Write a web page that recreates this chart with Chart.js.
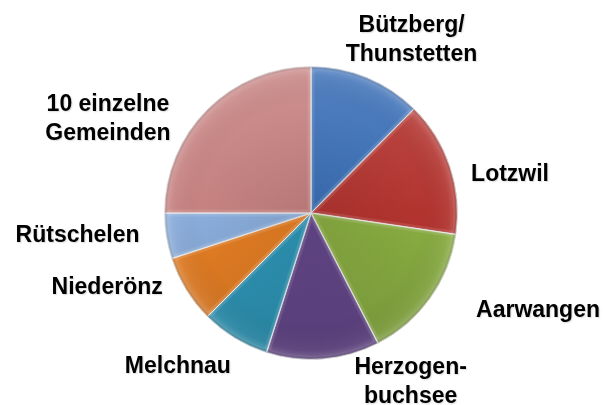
<!DOCTYPE html>
<html>
<head>
<meta charset="utf-8">
<script src="https://cdn.jsdelivr.net/npm/chart.js@4/dist/chart.umd.min.js"></script>
<style>
  html, body { margin: 0; padding: 0; background: #ffffff; }
  #wrap { width: 605px; height: 405px; position: relative; }
</style>
</head>
<body>
<div id="wrap"><canvas id="c" width="605" height="405"></canvas></div>
<script>
// ---- data ----
const categories = [
  'Bützberg/\nThunstetten',
  'Lotzwil',
  'Aarwangen',
  'Herzogen-\nbuchsee',
  'Melchnau',
  'Niederönz',
  'Rütschelen',
  '10 einzelne\nGemeinden'
];
const shares = [44.7, 53.7, 54.4, 44.9, 27.3, 26.9, 18.1, 90.0];
const sliceColors = ['#3a6fb6', '#b3342f', '#8aae42', '#65488b', '#2e97b8', '#e67f24', '#8aaddb', '#c58180'];

// ---- label layout (angle from 12 o'clock in degrees, distance in radii) ----
const labelAngle = [29.9, 78.6, 112.8, 149.2, 221.2, 250.3, 264.8, 295.3];
const labelDist  = [1.377, 1.386, 1.681, 1.328, 1.380, 1.478, 1.600, 1.533];

function shade(hex, amt) {
  const n = parseInt(hex.slice(1), 16);
  let r = (n >> 16) & 255, g = (n >> 8) & 255, b = n & 255;
  const f = (c) => amt >= 0 ? Math.round(c + (255 - c) * amt) : Math.round(c * (1 + amt));
  return `rgb(${f(r)},${f(g)},${f(b)})`;
}

const bevelPlugin = {
  id: 'bevel',
  afterDatasetsDraw(chart) {
    const ctx = chart.ctx;
    const meta = chart.getDatasetMeta(0);
    meta.data.forEach((arc) => {
      const p = arc.getProps(['x', 'y', 'startAngle', 'endAngle', 'outerRadius'], true);
      ctx.save();
      ctx.beginPath();
      ctx.moveTo(p.x, p.y);
      ctx.arc(p.x, p.y, p.outerRadius, p.startAngle, p.endAngle);
      ctx.closePath();
      ctx.clip();
      const rg = ctx.createRadialGradient(p.x, p.y, 0, p.x, p.y, p.outerRadius);
      rg.addColorStop(0, 'rgba(0,0,0,0.08)');
      rg.addColorStop(0.75, 'rgba(0,0,0,0)');
      rg.addColorStop(0.94, 'rgba(255,255,255,0.06)');
      rg.addColorStop(0.975, 'rgba(255,255,255,0.16)');
      rg.addColorStop(1, 'rgba(0,0,0,0.15)');
      ctx.fillStyle = rg;
      ctx.fillRect(p.x - p.outerRadius, p.y - p.outerRadius, p.outerRadius * 2, p.outerRadius * 2);
      ctx.beginPath();
      ctx.moveTo(p.x, p.y);
      ctx.arc(p.x, p.y, p.outerRadius, p.startAngle, p.endAngle);
      ctx.closePath();
      ctx.lineJoin = 'round';
      ctx.strokeStyle = 'rgba(255,255,255,0.10)';
      ctx.lineWidth = 7;
      ctx.stroke();
      ctx.strokeStyle = 'rgba(255,255,255,0.18)';
      ctx.lineWidth = 2.5;
      ctx.stroke();
      ctx.restore();
    });
  }
};

const labelPlugin = {
  id: 'outerLabels',
  afterDraw(chart) {
    const ctx = chart.ctx;
    const meta = chart.getDatasetMeta(0);
    const fontSize = 23;
    const lineH = 29;
    const capH = fontSize * 0.716;
    ctx.save();
    ctx.font = `bold ${fontSize}px "Liberation Sans", Arial, sans-serif`;
    ctx.fillStyle = '#000000';
    ctx.textAlign = 'center';
    ctx.textBaseline = 'alphabetic';
    ctx.shadowColor = 'rgba(0,0,0,0.15)';
    ctx.shadowBlur = 1.5;
    ctx.shadowOffsetX = 1;
    ctx.shadowOffsetY = 1;
    meta.data.forEach((arc, i) => {
      const p = arc.getProps(['x', 'y', 'outerRadius'], true);
      const a = labelAngle[i] * Math.PI / 180;
      const cx = p.x + Math.sin(a) * labelDist[i] * p.outerRadius;
      const cy = p.y - Math.cos(a) * labelDist[i] * p.outerRadius;
      const lines = chart.data.labels[i].split('\n');
      const first = cy - (lines.length - 1) * lineH / 2;
      lines.forEach((ln, k) => {
        ctx.fillText(ln, cx, first + k * lineH + capH / 2);
      });
    });
    ctx.restore();
  }
};

new Chart(document.getElementById('c'), {
  type: 'pie',
  data: {
    labels: categories,
    datasets: [{
      data: shares,
      backgroundColor: (ctx) => {
        const chart = ctx.chart;
        const area = chart.chartArea;
        const base = sliceColors[ctx.dataIndex];
        if (!area) return base;
        const g = chart.ctx.createLinearGradient(0, area.top, 0, area.bottom);
        g.addColorStop(0, shade(base, 0.12));
        g.addColorStop(0.5, base);
        g.addColorStop(1, shade(base, -0.15));
        return g;
      },
      borderColor: 'rgba(230,230,230,0.9)',
      borderWidth: 1
    }]
  },
  options: {
    responsive: false,
    animation: false,
    rotation: 0,
    layout: { padding: { left: 164, right: 147, top: 66, bottom: 45 } },
    plugins: {
      legend: { display: false },
      tooltip: { enabled: false },
      title: { display: false }
    }
  },
  plugins: [bevelPlugin, labelPlugin]
});
</script>
</body>
</html>
